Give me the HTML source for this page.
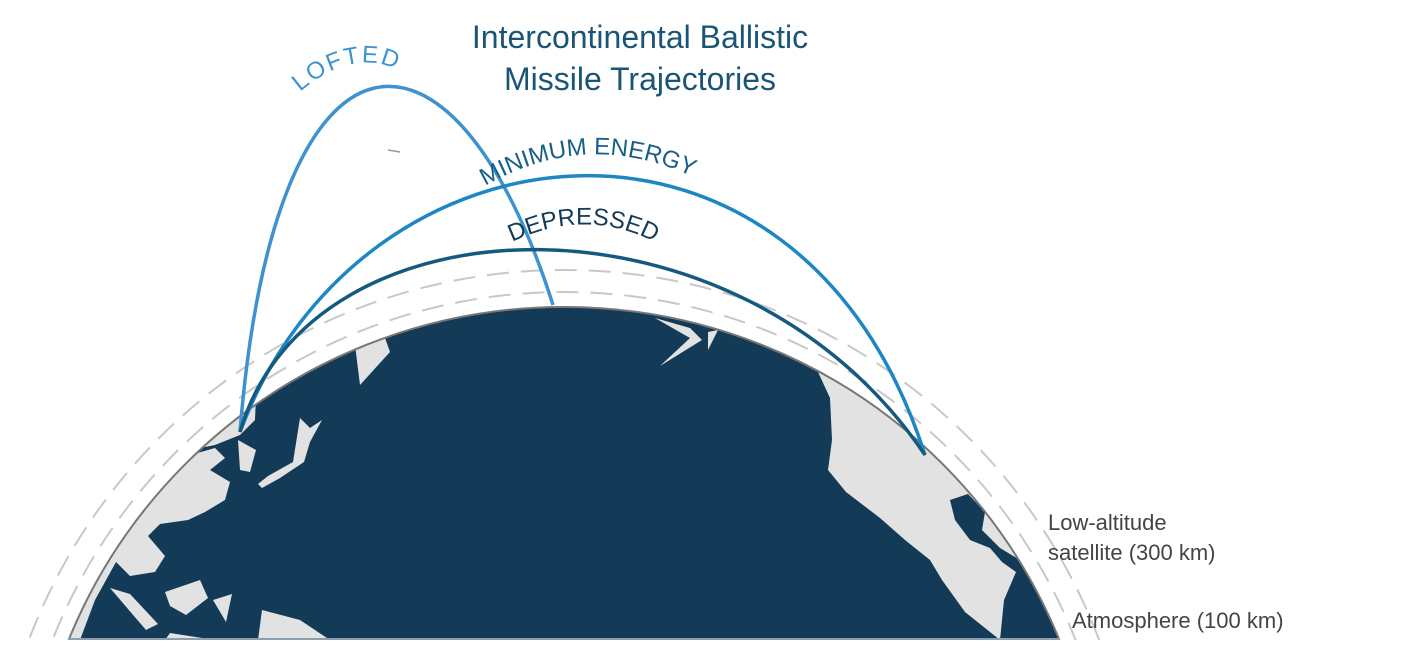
<!DOCTYPE html>
<html><head><meta charset="utf-8"><style>
html,body{margin:0;padding:0;background:#fff;width:1404px;height:656px;overflow:hidden;}
svg{display:block;}
text{font-family:"Liberation Sans",sans-serif;}
</style></head><body>
<svg width="1404" height="656" viewBox="0 0 1404 656" xmlns="http://www.w3.org/2000/svg">
<defs>
<clipPath id="earth"><circle cx="564" cy="842" r="535"/></clipPath>
<clipPath id="page"><rect x="0" y="0" width="1404" height="640"/></clipPath>
<path id="pl" d="M300,92 Q360,40 415,80"/>
<path id="pm" d="M485,186 Q600,120 722,192"/>
<path id="pd" d="M512,242 Q590,205 662,246"/>
</defs>
<g clip-path="url(#page)">
<circle cx="564" cy="842" r="572" fill="none" stroke="#c8c8c8" stroke-width="2" stroke-dasharray="22,12"/>
<circle cx="564" cy="842" r="550" fill="none" stroke="#c8c8c8" stroke-width="2" stroke-dasharray="22,12"/>
<circle cx="564" cy="842" r="535" fill="#133a57"/>
<g clip-path="url(#earth)" fill="#e2e2e2">
<path d="M0,300 L260,300 L255,420 L240,435 L215,445 L190,450 L180,458 L215,448 L225,458 L210,470 L230,482 L225,500 L205,512 L188,520 L160,524 L148,536 L165,556 L155,572 L130,576 L116,562 L95,600 L80,640 L0,640 Z"/>
<path d="M238,440 L256,450 L250,472 L240,470 Z"/>
<path d="M258,484 L268,476 L293,462 L300,418 L310,428 L322,420 L310,442 L304,462 L280,478 L262,488 Z"/>
<path d="M355,345 L385,338 L390,352 L360,385 Z"/>
<path d="M110,588 L130,594 L158,624 L146,630 Z"/>
<path d="M165,592 L200,580 L208,598 L186,615 L170,606 Z"/>
<path d="M213,600 L232,594 L226,622 Z"/>
<path d="M262,610 L300,620 L330,640 L258,640 Z"/>
<path d="M170,633 L215,640 L165,640 Z"/>
<path d="M655,318 L690,328 L702,340 L660,366 L690,338 Z"/>
<path d="M708,332 L718,330 L708,350 Z"/>
<path d="M805,360 L818,372 L830,398 L832,440 L828,470 L846,492 L880,518 L905,540 L930,560 L942,580 L965,612 L1000,640 L1004,600 L1016,572 L1002,562 L990,548 L970,540 L955,520 L950,500 L968,494 L985,512 L982,530 L1000,548 L1020,560 L1100,560 L1100,300 L820,300 Z"/>
</g>
<circle cx="564" cy="842" r="535" fill="none" stroke="#777" stroke-width="2"/>
<rect x="68" y="638" width="992" height="2" fill="#8aa0b0"/>
</g>
<line x1="388" y1="150" x2="400" y2="152" stroke="#999" stroke-width="1.5"/>
<path d="M240,432 C275,-5 455,-5 553,305" fill="none" stroke="#3d92cf" stroke-width="3.5"/>
<path d="M240,432 C360,110 800,63 925,455" fill="none" stroke="#1e86c2" stroke-width="3.5"/>
<path d="M240,432 C310,190 740,180 925,455" fill="none" stroke="#145a80" stroke-width="3.5"/>
<text font-size="24" fill="#3d92cf" letter-spacing="2"><textPath href="#pl">LOFTED</textPath></text>
<text font-size="24" fill="#175f88"><textPath href="#pm">MINIMUM ENERGY</textPath></text>
<text font-size="24" fill="#133a57"><textPath href="#pd">DEPRESSED</textPath></text>
<text x="640" y="48" font-size="32" fill="#1b5575" text-anchor="middle">Intercontinental Ballistic</text>
<text x="640" y="90" font-size="32" fill="#1b5575" text-anchor="middle">Missile Trajectories</text>
<text x="1048" y="530" font-size="22" fill="#444">Low-altitude</text>
<text x="1048" y="560" font-size="22" fill="#444">satellite (300 km)</text>
<text x="1072" y="628" font-size="22" fill="#444">Atmosphere (100 km)</text>
</svg>
</body></html>
